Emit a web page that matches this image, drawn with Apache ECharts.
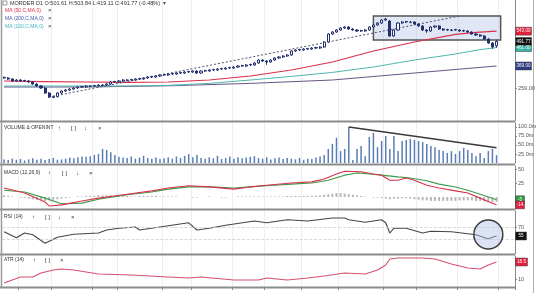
<!DOCTYPE html>
<html><head><meta charset="utf-8">
<script src="https://cdn.jsdelivr.net/npm/echarts@6/dist/echarts.min.js"></script>
<style>html,body{margin:0;padding:0;background:#fff}#c{width:536px;height:293px}</style>
</head><body><div id="c"></div>
<script>
// ---------- DATA ----------
const categories = Array.from({length: 125}, (_, i) => 'D' + (i + 1));
const tickIdx = [4, 12, 22, 28, 39, 46, 56, 64, 73, 82, 93, 101, 111, 121];

// candles: [open, close, low, high]
const ohlc = [
[312,309,305,316],[309,304,300,313],[304,294,290,308],[294,299,290,303],[299,294,290,303],
[296,294,290,300],[294,289,285,298],[289,279,275,293],[279,269,265,283],[269,259,255,273],
[259,234,230,263],[234,214,210,238],[212,216,208,220],[216,234,212,238],[234,244,230,248],
[244,249,240,253],[249,254,245,258],[254,259,250,263],[259,264,255,268],[266,264,260,270],
[264,269,260,273],[267,269,263,273],[271,269,265,275],[269,274,265,278],[272,274,268,278],
[274,279,270,283],[279,289,275,293],[291,289,285,295],[289,294,285,298],[294,299,290,303],
[297,299,293,303],[301,299,295,305],[299,304,295,308],[306,304,300,310],[304,309,300,313],
[309,314,305,318],[316,314,310,320],[314,319,310,323],[319,324,315,328],[326,324,320,330],
[324,329,320,333],[331,329,325,335],[329,334,325,338],[336,334,330,340],[334,339,330,343],
[341,339,335,345],[339,344,335,348],[344,334,330,348],[334,344,330,348],[346,344,340,350],
[344,349,340,353],[351,349,345,355],[349,354,345,358],[356,354,350,360],[354,359,350,363],
[361,359,355,365],[359,364,355,368],[364,369,360,373],[371,369,365,375],[369,374,365,378],
[376,374,370,380],[374,384,370,388],[384,399,380,403],[399,394,390,403],[394,389,375,398],
[389,399,385,403],[399,409,395,413],[409,414,405,418],[414,419,410,423],[419,424,415,428],
[424,444,420,448],[444,449,440,453],[451,449,445,455],[449,454,445,458],[456,454,450,460],
[454,459,450,463],[461,459,455,465],[459,464,455,468],[464,489,460,493],[489,529,485,533],
[529,539,525,543],[539,549,535,553],[549,559,545,563],[559,564,555,568],[564,554,550,568],
[554,549,545,558],[549,544,540,553],[546,544,540,550],[544,549,540,553],[549,564,545,568],
[564,574,560,578],[574,584,570,588],[584,599,580,603],[599,604,595,610],[594,519,515,598],
[519,549,515,553],[549,584,545,588],[584,589,580,593],[591,589,585,595],[587,589,583,593],
[589,579,575,593],[579,569,565,583],[569,549,545,573],[549,544,535,553],[544,564,540,568],
[564,569,560,573],[569,554,550,573],[554,549,545,558],[551,549,545,555],[547,549,543,553],
[551,549,545,555],[549,544,540,553],[546,544,540,550],[544,539,535,548],[539,529,525,543],
[529,524,520,533],[524,519,515,528],[519,504,500,523],[504,484,480,508],[484,464,455,488],
[470,491.77,460,500]
];

// moving averages: [bar index, value]
const ma50 = [[0,294],[10,291],[20,289],[30,287],[40,289],[50,299],[60,319],[70,349],[80,389],[90,444],[100,489],[110,527],[115,537],[120,543]];
const ma100 = [[0,269],[10,269],[20,269],[30,269],[40,272],[50,282],[60,299],[70,317],[80,337],[90,364],[100,399],[110,429],[116,451],[120,461]];
const ma200 = [[0,264],[20,264],[40,270],[60,282],[80,299],[100,334],[120,369]];
const priceTrend = [[11,214],[111,619]];
const boxRange = {from: 90, to: 121, top: 619, bottom: 499};

const volume = [
10,8,12,9,11,7,10,13,9,12,8,11,14,9,10,12,15,13,16,18,
17,19,22,25,39,36,30,22,17,15,14,18,12,15,20,14,12,15,11,13,
16,12,18,14,20,25,16,22,14,12,16,13,20,11,14,18,12,16,13,15,
17,19,14,12,16,10,13,15,11,14,12,10,14,9,12,11,15,18,22,39,
53,70,33,39,100,8,39,47,19,72,83,44,61,75,39,75,33,61,64,67,
64,61,58,53,47,44,36,33,28,33,25,33,42,36,28,19,28,14,33,39,22
];
const volTrend = [[84,100],[120,42]];

const macdHist = [
3,2,1,0,-1,
-2,-3,-4,-5,-6,-7,-6,-5,-4,-3,
-2,-1,0,1,1,2,2,2,3,3,
3,3,2,2,2,2,1,1,2,2,2,2,2,1,1,1,1,1,0,0,
0,-1,-1,0,0,1,0,0,-1,-1,0,0,1,1,1,1,1,1,1,1,1,1,1,1,2,2,2,2,2,2,
2,2,3,4,5,6,7,7,6,5,4,3,2,1,0,-1,-1,-2,-3,-4,
-3,-3,-2,-2,-3,-4,-5,-6,-6,-7,-7,-7,-7,-7,-7,-7,-6,-6,-6,-6,-7,-7,-8,-8,-9,-9
];
const macdLine = [[0,16],[5,7],[10,-9],[11,-16],[14,-14],[19,-7],[23,-2],[30,5],[36,11],[40,16],[45,20],[50,18],[56,14],[60,18],[64,21],[70,25],[75,27],[78,32],[81,41],[83,46],[87,45],[90,41],[92,39],[94,30],[96,30],[98,34],[100,30],[103,21],[106,16],[110,11],[113,7],[116,-2],[119,-11],[120,-14]];
const signalLine = [[0,12],[5,9],[10,-2],[14,-12],[19,-11],[23,-4],[30,4],[36,9],[40,14],[45,18],[50,18],[56,16],[60,18],[64,20],[70,23],[75,25],[79,30],[83,39],[86,43],[89,41],[92,39],[96,36],[99,34],[103,29],[106,23],[110,18],[113,12],[116,5],[120,-5]];

const rsi = [[0,62],[3,52],[5,60],[7,57],[10,43],[13,53],[17,58],[23,60],[25,65],[28,68],[32,70],[33,65],[40,72],[45,77],[47,65],[50,68],[54,73],[61,80],[64,77],[69,82],[74,80],[80,85],[83,85],[84,82],[88,78],[92,82],[93,77],[94,60],[95,68],[98,68],[102,60],[104,63],[109,62],[115,57],[118,50],[119,53],[120,55]];
const rsiCircle = [118, 57.5];

const atr = [[0,8],[2,9.5],[4,11],[7,11],[9,13],[12,14.5],[14,15],[17,14.5],[20,13.5],[23,12.5],[31,12],[40,11],[45,10.5],[48,11],[56,9.5],[62,9.5],[64,10.5],[69,9.5],[74,10.5],[78,11.5],[83,13],[88,12.5],[91,14.5],[93,17],[94,20],[96,20.5],[102,20.5],[105,20],[109,17.5],[113,15.5],[116,15],[118,17],[120,18.5]];

const priceTicks = [259];
const volTicks = [25, 50, 75, 100];
const macdTicks = [25, 50];
const rsiTicks = [70];
const rsiLevels = [70, 50];
const atrTicks = [10];

// ---------- CHART ----------
const FONT = 'Liberation Sans';
const RED = '#d8314b', TEAL = '#4db7b0', PURPLE = '#6a5585', NAVY = '#22306e';
const grids = [
  {left: 2, right: 21, top: 0, height: 121},
  {left: 2, right: 21, top: 123, height: 40},
  {left: 2, right: 21, top: 166, height: 43},
  {left: 2, right: 21, top: 211, height: 43},
  {left: 2, right: 21, top: 256, height: 31}
].map(g => Object.assign({outerBoundsMode: 'none'}, g));
const tickFn = (i) => tickIdx.indexOf(i) >= 0;
const xAxes = grids.map((g, k) => ({
  type: 'category', gridIndex: k, data: categories, boundaryGap: true,
  axisLine: {show: false},
  axisTick: k === 4 ? {show: true, interval: tickFn, length: 3, lineStyle: {color: '#888'}} : {show: false},
  axisLabel: {show: false},
  splitLine: {show: true, interval: tickFn, lineStyle: {color: '#eeeeee', width: 1}}
}));
function yAx(k, min, max, ticks, fmt) {
  return {
    type: 'value', gridIndex: k, position: 'right', min: min, max: max, scale: true,
    axisLine: {show: true, lineStyle: {color: '#888', width: 1}},
    axisTick: {show: true, customValues: ticks, length: 2, lineStyle: {color: '#888'}},
    splitLine: {show: false},
    axisLabel: {show: true, customValues: ticks, fontSize: 5.5, color: '#555', margin: 3, fontFamily: FONT, formatter: fmt}
  };
}
const yAxes = [
  yAx(0, 94, 699, priceTicks, v => v.toFixed(2)),
  yAx(1, 0, 111, volTicks, v => v.toFixed(1) + 'm'),
  yAx(2, -21.43, 55.36, macdTicks, v => String(v)),
  yAx(3, 25, 96.67, rsiTicks, v => String(v)),
  yAx(4, 6, 21.5, atrTicks, v => String(v))
];
const line = (name, data, xi, color, w, extra) => Object.assign({
  name: name, type: 'line', xAxisIndex: xi, yAxisIndex: xi, data: data,
  symbol: 'none', smooth: false, lineStyle: {color: color, width: w}, silent: true, z: 3
}, extra || {});

const series = [
  {
    name: 'Price', type: 'candlestick', xAxisIndex: 0, yAxisIndex: 0, data: ohlc, barWidth: 2.6,
    itemStyle: {color: '#ffffff', color0: NAVY, borderColor: NAVY, borderColor0: NAVY, borderWidth: 1},
    z: 4,
    markArea: {
      silent: true,
      itemStyle: {color: 'rgba(165,182,220,0.35)', borderColor: '#555', borderWidth: 1.5},
      data: [[{xAxis: categories[boxRange.from], yAxis: boxRange.top}, {xAxis: categories[boxRange.to], yAxis: boxRange.bottom}]]
    }
  },
  line('MA 200', ma200, 0, PURPLE, 1),
  line('MA 100', ma100, 0, TEAL, 1),
  line('MA 50', ma50, 0, RED, 1.2),
  line('Trend', priceTrend, 0, '#4a4f6a', 1, {lineStyle: {color: '#4a4f6a', width: 1, type: [2, 2]}}),
  {name: 'Volume', type: 'bar', xAxisIndex: 1, yAxisIndex: 1, data: volume, barWidth: 1.5, itemStyle: {color: '#5a7db5'}, silent: true},
  line('VolTrend', volTrend, 1, '#3a3a3a', 1.5),
  {name: 'Hist', type: 'bar', xAxisIndex: 2, yAxisIndex: 2, data: macdHist, barWidth: 2, itemStyle: {color: '#b8b8b8'}, silent: true},
  line('Signal', signalLine, 2, '#3d9b4c', 1.1),
  line('MACD', macdLine, 2, RED, 1.1),
  line('RSI', rsi, 3, '#454545', 1.1, {
    markLine: {silent: true, symbol: 'none', label: {show: false},
      lineStyle: {color: '#cfcfcf', type: 'dashed', width: 0.8},
      data: rsiLevels.map(v => ({yAxis: v}))}
  }),
  line('ATR', atr, 4, '#d4506e', 1.1)
];

const chart = echarts.init(document.getElementById('c'), null, {renderer: 'canvas'});
chart.setOption({
  animation: false, backgroundColor: '#ffffff',
  textStyle: {fontFamily: FONT},
  grid: grids, xAxis: xAxes, yAxis: yAxes, series: series
});

// ---------- ANNOTATIONS ----------
const G = [];
const txt = (x, y, s, color, size, extra) => G.push(Object.assign({type: 'text', x: x, y: y, silent: true,
  style: {text: s, fill: color, fontSize: size, fontFamily: FONT, verticalAlign: 'middle'}}, extra || {}));
// separators
[121.5, 164.5, 209.5, 254.5, 287.5].forEach(y => G.push({type: 'line', silent: true,
  shape: {x1: 0, y1: y, x2: 515, y2: y}, style: {stroke: '#8c8c8c', lineWidth: 2.2}}));
G.push({type: 'line', silent: true, shape: {x1: 1.5, y1: 0, x2: 1.5, y2: 288}, style: {stroke: '#9a9a9a', lineWidth: 1.5}});
G.push({type: 'line', silent: true, shape: {x1: 533.5, y1: 0, x2: 533.5, y2: 293}, style: {stroke: '#b0b0b0', lineWidth: 1}});
// header
G.push({type: 'rect', silent: true, shape: {x: 3, y: 1, width: 4, height: 4}, style: {fill: 'none', stroke: '#777', lineWidth: 0.7}});
txt(10, 3.5, 'MORDER D1 O:501.61 H:503.84 L:419.11 C:491.77 (-0.48%)', '#333', 5.5);
txt(150, 3.5, '\u22EE', '#555', 6);
txt(163, 3.5, '\u25BE', '#555', 6);
txt(5, 10.5, 'MA (50,C,MA,0)', RED, 5);
txt(48, 10.5, '\u00D7', '#333', 6);
txt(5, 18.5, 'MA (200,C,MA,0)', '#3d5aa8', 5);
txt(48, 18.5, '\u00D7', '#333', 6);
txt(5, 26.5, 'MA (100,C,MA,0)', '#3fb0c0', 5);
txt(48, 26.5, '\u00D7', '#333', 6);
// panel titles
const panelTitle = (y, name, xs, icons) => {
  txt(4, y, name, '#333', 5);
  icons.forEach((ic, j) => txt(xs[j], y, ic, '#333', 6));
};
panelTitle(128, 'VOLUME & OPENINT', [58, 71, 84, 98], ['\u2191', '[ ]', '\u2193', '\u00D7']);
panelTitle(173, 'MACD (12,26,9)', [48, 62, 76, 89], ['\u2191', '[ ]', '\u2193', '\u00D7']);
panelTitle(217, 'RSI (14)', [32, 45, 58, 71], ['\u2191', '[ ]', '\u2193', '\u00D7']);
panelTitle(260, 'ATR (14)', [33, 45, 60], ['\u2191', '[ ]', '\u00D7']);

// value tags on the right axis
const tag = (axis, value, color, w, label) => {
  const y = chart.convertToPixel({yAxisIndex: axis}, value);
  G.push({type: 'rect', silent: true, z: 10, shape: {x: 515.5, y: y - 4, width: w, height: 8},
    style: {fill: color, stroke: '#444', lineWidth: 0.5}});
  G.push({type: 'text', silent: true, z: 11, x: 515.5 + w / 2, y: y,
    style: {text: label, fill: '#fff', fontSize: 4.5, fontFamily: FONT, align: 'center', verticalAlign: 'middle'}});
};
const last = arr => arr[arr.length - 1][1];
tag(0, last(ma50), '#e01f3d', 16, last(ma50).toFixed(2));
tag(0, last(ma100), '#35b3a6', 16, last(ma100).toFixed(2));
tag(0, ohlc[ohlc.length - 1][1], '#111111', 16, ohlc[ohlc.length - 1][1].toFixed(2));
tag(0, last(ma200), '#2e3a80', 16, last(ma200).toFixed(2));
tag(2, last(signalLine), '#2f9a40', 9, String(last(signalLine)));
tag(2, last(macdLine), '#e01f3d', 9, String(last(macdLine)));
tag(3, last(rsi), '#111111', 11, String(last(rsi)));
tag(4, last(atr), '#e01f3d', 12, String(last(atr)));

// circle around the latest RSI turn
const cp = chart.convertToPixel({gridIndex: 3}, rsiCircle);
G.push({type: 'circle', silent: true, z: 9, shape: {cx: cp[0], cy: cp[1], r: 14.5},
  style: {fill: 'rgba(175,192,230,0.45)', stroke: '#3c3c3c', lineWidth: 1.5}});

chart.setOption({graphic: G});
</script>
</body></html>
